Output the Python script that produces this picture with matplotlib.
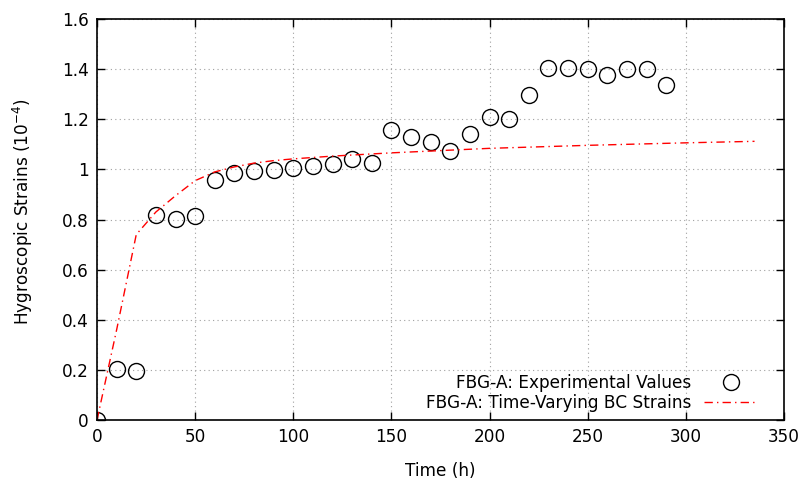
import numpy as np
import matplotlib
matplotlib.use("Agg")
import matplotlib.pyplot as plt
from matplotlib.ticker import FuncFormatter

# experimental points (FBG-A)
t_exp = [0, 10, 20, 30, 40, 50, 60, 70, 80, 90, 100, 110, 120, 130, 140,
         150, 160, 170, 180, 190, 200, 210, 220, 230, 240, 250, 260, 270, 280, 290]
eps_exp = [0.0, 0.205, 0.195, 0.818, 0.802, 0.816, 0.958, 0.984, 0.992, 0.998,
           1.006, 1.014, 1.02, 1.042, 1.025, 1.157, 1.13, 1.108, 1.075, 1.14,
           1.21, 1.2, 1.297, 1.405, 1.405, 1.40, 1.375, 1.40, 1.40, 1.337]

# time-varying BC model
t_mod = [0, 10, 20, 30, 40, 50, 60, 70, 80, 90, 100, 120, 150, 200, 250, 300, 335]
eps_mod = [0.0, 0.36, 0.74, 0.83, 0.895, 0.955, 0.99, 1.01, 1.025, 1.035,
           1.042, 1.053, 1.066, 1.084, 1.096, 1.106, 1.112]

plt.rcParams['font.family'] = 'DejaVu Sans'
plt.rcParams['font.size'] = 12.2

fig = plt.figure(figsize=(8.03, 4.84), dpi=100)
ax = fig.add_axes([0.1208, 0.1322, 0.8555, 0.8285])

ax.plot(t_exp, eps_exp, linestyle='none', marker='o', markersize=11.5,
        markerfacecolor='none', markeredgecolor='black', markeredgewidth=1.0,
        label='FBG-A: Experimental Values')
ax.plot(t_mod, eps_mod, color='red', linestyle=(0, (6, 3, 1, 3)), linewidth=1.0,
        label='FBG-A: Time-Varying BC Strains')

ax.set_xlim(0, 350)
ax.set_ylim(0, 1.6)
ax.set_xticks(np.arange(0, 351, 50))
ax.set_yticks(np.arange(0, 1.61, 0.2))
ax.yaxis.set_major_formatter(FuncFormatter(lambda v, p: '%g' % round(v, 2)))
ax.tick_params(direction='in', top=True, right=True, length=6, width=1, pad=6)
ax.grid(True, color='#a0a0a0', linestyle=(0, (1, 3)), linewidth=0.8)
for s in ax.spines.values():
    s.set_linewidth(1.2)

ax.set_xlabel('Time (h)', labelpad=11)
ax.set_ylabel('Hygroscopic Strains (10$^{-4}$)')
ax.yaxis.set_label_coords(-0.09, 0.52)

ax.legend(loc='lower right', frameon=False, markerfirst=False, handlelength=3.2,
          borderaxespad=0.3, labelspacing=0.1, handletextpad=0.75,
          bbox_to_anchor=(0.98, -0.009))

fig.savefig('out.png', dpi=100)
